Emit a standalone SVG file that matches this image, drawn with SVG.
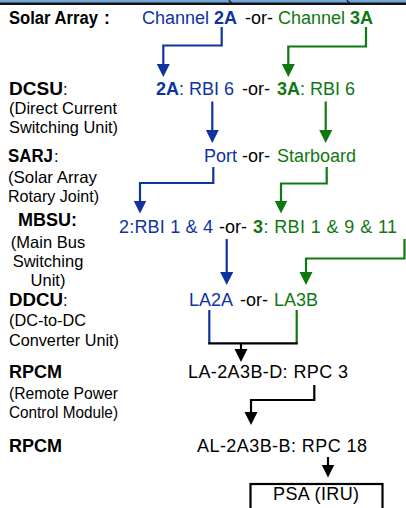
<svg xmlns="http://www.w3.org/2000/svg" width="406" height="508" viewBox="0 0 406 508">
<style>
text{font-family:"Liberation Sans",Arial,Helvetica,sans-serif;}
.lb{font-size:17.5px;font-weight:bold;fill:#000;}
.ls{font-size:16.5px;fill:#000;}
.t{font-size:18px;}
.b{font-weight:bold;}
.blue{fill:#0f33a0;}
.green{fill:#107810;}
.blk{fill:#000;}
.cb{fill:none;stroke:#0f33a0;stroke-width:2.2;}
.cg{fill:none;stroke:#107810;stroke-width:2.2;}
.ck{fill:none;stroke:#000;stroke-width:2.2;}
</style>
<defs>
<marker id="ab" markerUnits="userSpaceOnUse" markerWidth="14" markerHeight="14" refX="3" refY="6.5" orient="auto"><path d="M0,0 L13,6.5 L0,13 z" fill="#0f33a0"/></marker>
<marker id="ag" markerUnits="userSpaceOnUse" markerWidth="14" markerHeight="14" refX="3" refY="6.5" orient="auto"><path d="M0,0 L13,6.5 L0,13 z" fill="#107810"/></marker>
<marker id="ak" markerUnits="userSpaceOnUse" markerWidth="14" markerHeight="14" refX="3" refY="6.5" orient="auto"><path d="M0,0 L13,6.5 L0,13 z" fill="#000"/></marker>
</defs>
<rect x="0" y="0" width="406" height="508" fill="#fff"/>
<g id="topbar">
<rect x="0" y="0" width="406" height="2.6" fill="#6fa8dc"/>
<rect x="0" y="2.4" width="406" height="2.6" fill="#111"/>
<path d="M229,0 Q230,2.5 232,2.6 M347,0 Q348,2.5 350,2.6" fill="none" stroke="#111" stroke-width="1.2"/>
</g>
<g id="labels">
<text class="lb" x="9" y="23.5" textLength="89" lengthAdjust="spacingAndGlyphs">Solar Array</text><text class="lb" x="104" y="23.5">:</text>
<text class="lb" x="9" y="95" textLength="54" lengthAdjust="spacingAndGlyphs">DCSU</text><text class="ls" x="63" y="95">:</text>
<text class="ls" x="9" y="114" textLength="108" lengthAdjust="spacingAndGlyphs">(Direct Current</text>
<text class="ls" x="9" y="133" textLength="109" lengthAdjust="spacingAndGlyphs">Switching Unit)</text>
<text class="lb" x="8" y="162" textLength="45" lengthAdjust="spacingAndGlyphs">SARJ</text><text class="ls" x="54" y="162">:</text>
<text class="ls" x="8" y="183" textLength="89" lengthAdjust="spacingAndGlyphs">(Solar Array</text>
<text class="ls" x="8" y="201.5" textLength="91" lengthAdjust="spacingAndGlyphs">Rotary Joint)</text>
<text class="lb" x="18" y="226" textLength="59" lengthAdjust="spacingAndGlyphs">MBSU:</text>
<text class="ls" x="48" y="248" text-anchor="middle">(Main Bus</text>
<text class="ls" x="48" y="267" text-anchor="middle">Switching</text>
<text class="ls" x="48" y="286" text-anchor="middle">Unit)</text>
<text class="lb" x="9" y="306" textLength="54" lengthAdjust="spacingAndGlyphs">DDCU</text><text class="ls" x="63" y="306">:</text>
<text class="ls" x="9" y="326" textLength="77" lengthAdjust="spacingAndGlyphs">(DC-to-DC</text>
<text class="ls" x="9" y="346" textLength="110" lengthAdjust="spacingAndGlyphs">Converter Unit)</text>
<text class="lb" x="9" y="378" textLength="53" lengthAdjust="spacingAndGlyphs">RPCM</text>
<text class="ls" x="9" y="399" textLength="109" lengthAdjust="spacingAndGlyphs">(Remote Power</text>
<text class="ls" x="9" y="418" textLength="109" lengthAdjust="spacingAndGlyphs">Control Module)</text>
<text class="lb" x="9" y="452" textLength="53" lengthAdjust="spacingAndGlyphs">RPCM</text>
</g>
<g id="row-solar">
<g id="ch2a"><text class="t blue" x="142" y="24">Channel <tspan class="b">2A</tspan></text></g>
<text class="t blk" x="245" y="24">-or-</text>
<g id="ch3a"><text class="t green" x="278" y="24">Channel <tspan class="b">3A</tspan></text></g>
</g>
<g id="row-dcsu">
<g id="dcsu2a"><text class="t blue" x="156" y="95"><tspan class="b">2A</tspan>: RBI 6</text></g>
<text class="t blk" x="242" y="95">-or-</text>
<g id="dcsu3a"><text class="t green" x="277" y="95"><tspan class="b">3A</tspan>: RBI 6</text></g>
</g>
<g id="row-sarj">
<g id="port"><text class="t blue" x="204" y="162">Port</text></g>
<text class="t blk" x="242" y="162">-or-</text>
<g id="starboard"><text class="t green" x="277" y="162">Starboard</text></g>
</g>
<g id="row-mbsu">
<g id="mbsu2"><text class="t blue" x="119" y="233" textLength="94">2:RBI 1 &amp; 4</text></g>
<text class="t blk" x="219" y="233">-or-</text>
<g id="mbsu3"><text class="t green" x="253" y="233" textLength="144"><tspan class="b">3</tspan>: RBI 1 &amp; 9 &amp; 11</text></g>
</g>
<g id="row-ddcu">
<g id="la2a"><text class="t blue" x="189" y="306">LA2A</text></g>
<text class="t blk" x="240" y="306">-or-</text>
<g id="la3b"><text class="t green" x="274" y="306">LA3B</text></g>
</g>
<g id="rpcm1"><text class="t blk" x="188" y="378" textLength="160">LA-2A3B-D: RPC 3</text></g>
<g id="rpcm2"><text class="t blk" x="197" y="452" textLength="170">AL-2A3B-B: RPC 18</text></g>
<g id="psa">
<rect x="250.5" y="484" width="132" height="40" fill="none" stroke="#000" stroke-width="2.2"/>
<text class="t blk" x="316" y="500" text-anchor="middle" textLength="86">PSA (IRU)</text>
</g>
<g id="connectors">
<path class="cb" d="M221.7,27 V45.5 H163.3 V67" marker-end="url(#ab)"/>
<path class="cg" d="M366,27 V46.5 H288.3 V67" marker-end="url(#ag)"/>
<path class="cb" d="M212.3,101.5 V133" marker-end="url(#ab)"/>
<path class="cg" d="M325.7,101.5 V133" marker-end="url(#ag)"/>
<path class="cb" d="M213.3,167 V183 H140 V203.5" marker-end="url(#ab)"/>
<path class="cg" d="M326.7,167 V183.5 H281 V203.5" marker-end="url(#ag)"/>
<path class="cb" d="M226.7,239 V275" marker-end="url(#ab)"/>
<path class="cg" d="M404.5,239 V258.5 H306 V275" marker-end="url(#ag)"/>
<path class="cb" d="M209.3,310 V343.3"/>
<path class="cg" d="M296.7,310 V343.3"/>
<path class="ck" d="M208.2,343.3 H297.8"/>
<path class="ck" d="M241,343.3 V352" marker-end="url(#ak)"/>
<path class="ck" d="M314.3,385 V400 H251 V415" marker-end="url(#ak)"/>
<path class="ck" d="M328,457 V467.5" marker-end="url(#ak)"/>
</g>
</svg>
